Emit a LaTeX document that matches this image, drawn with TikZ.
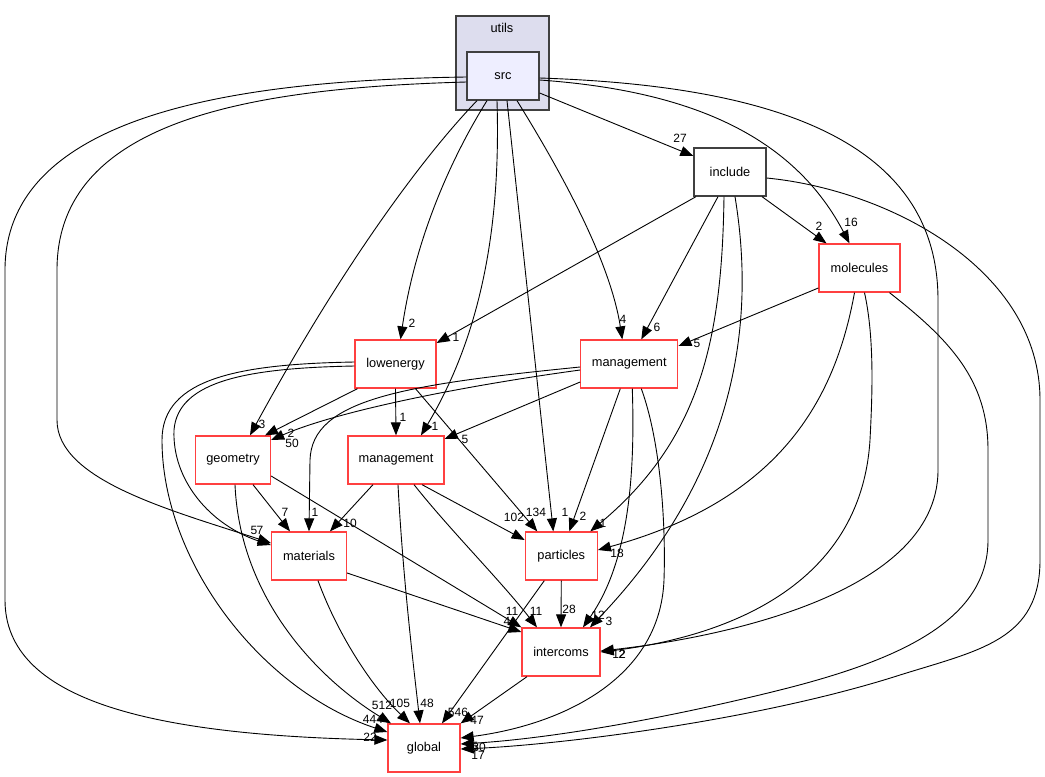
\documentclass[tikz,border=0pt]{standalone}
\usepackage{fontspec}
\setmainfont{Liberation Sans}
\usetikzlibrary{arrows.meta}
\definecolor{nodered}{RGB}{255,64,64}
\definecolor{clusterfill}{RGB}{221,221,238}
\definecolor{srcfill}{RGB}{238,238,255}
\definecolor{darkedge}{RGB}{64,64,64}
\begin{document}
\begin{tikzpicture}[x=1pt,y=-1pt,
  dirbox/.style={draw=nodered,line width=1.3pt,rectangle,minimum height=48pt,inner sep=0pt,font=\fontsize{12.8}{14}\selectfont},
  conn/.style={draw=black,line width=0.9pt,-{Triangle[length=13pt,width=10pt]}},
  lbl/.style={font=\fontsize{12}{12}\selectfont,inner sep=0pt}]
\useasboundingbox (0,0) rectangle (1045,777);
\fill[white] (0,0) rectangle (1045,777);
% cluster
\node[draw=darkedge,fill=clusterfill,line width=1.3pt,minimum width=93pt,minimum height=94pt,inner sep=0pt] (utils) at (502.5,63) {};
\node[font=\fontsize{12.8}{14}\selectfont,inner sep=0pt] (utilslbl) at (502,28) {utils};
\node[draw=darkedge,fill=srcfill,line width=1.3pt,minimum width=72pt,minimum height=48pt,inner sep=0pt,font=\fontsize{12.8}{14}\selectfont] (src) at (503,76) {src};
% nodes
\node[dirbox,draw=darkedge,minimum width=72pt] (include) at (730,172) {include};
\node[dirbox,minimum width=81pt] (molecules) at (859.5,268) {molecules};
\node[dirbox,minimum width=81pt] (lowenergy) at (395.5,364) {lowenergy};
\node[dirbox,minimum width=97pt] (mgmtT) at (629.3,364) {management};
\node[dirbox,minimum width=75pt] (geometry) at (233,460) {geometry};
\node[dirbox,minimum width=96pt] (mgmtM) at (396,460) {management};
\node[dirbox,minimum width=75pt] (materials) at (309,556) {materials};
\node[dirbox,minimum width=72pt] (particles) at (561.3,556) {particles};
\node[dirbox,minimum width=78pt] (intercoms) at (561,652) {intercoms};
\node[dirbox,minimum width=72pt] (global) at (424,748) {global};
% src edges
\draw[conn] ([yshift=-17pt]src.east) -- ([yshift=16pt]include.west);
\draw[conn] ([yshift=-4pt]src.east) .. controls (680,90) and (790,130) .. ([xshift=-10pt]molecules.north);
\draw[conn] ([yshift=-2pt]src.east) .. controls (750,85) and (938,130) .. (938,300) -- (938,470) .. controls (938,600) and (700,640) .. ([yshift=1pt]intercoms.east);
\draw[conn] ([yshift=-1pt]src.west) .. controls (250,80) and (5,110) .. (5,270) -- (5,600) .. controls (5,700) and (150,735) .. ([yshift=8pt]global.west);
\draw[conn] ([yshift=-6pt]src.west) .. controls (250,88) and (57,120) .. (57,270) -- (57,420) .. controls (57,480) and (170,510) .. ([yshift=13pt]materials.west);
\draw[conn] ([xshift=-26pt]src.south) .. controls (420,160) and (340,270) .. ([xshift=17pt]geometry.north);
\draw[conn] ([xshift=-16pt]src.south) .. controls (450,160) and (415,240) .. ([xshift=5pt]lowenergy.north);
\draw[conn] ([xshift=-6pt]src.south) .. controls (500,200) and (490,320) .. ([xshift=25pt]mgmtM.north);
\draw[conn] ([xshift=4pt]src.south) -- ([xshift=-8pt]particles.north);
\draw[conn] ([xshift=14pt]src.south) .. controls (560,170) and (610,260) .. ([xshift=-7pt]mgmtT.north);
% include edges
\draw[conn] ([xshift=-34pt]include.south) -- ([yshift=21pt]lowenergy.east);
\draw[conn] ([xshift=-12pt]include.south) -- ([xshift=12pt]mgmtT.north);
\draw[conn] ([xshift=-6pt]include.south) .. controls (722,340) and (700,440) .. ([xshift=29pt]particles.north);
\draw[conn] ([xshift=5pt]include.south) .. controls (752,300) and (750,460) .. ([xshift=29pt]intercoms.north);
\draw[conn] ([xshift=32pt]include.south) -- ([xshift=-33pt]molecules.north);
\draw[conn] ([yshift=-6pt]include.east) .. controls (890,190) and (1040,270) .. (1040,400) -- (1040,560) .. controls (1040,640) and (980,650) .. (900,675) .. controls (760,720) and (560,745) .. ([yshift=-1pt]global.east);
% molecules edges
\draw[conn] ([yshift=-20pt]molecules.west) -- ([yshift=18pt]mgmtT.east);
\draw[conn] ([xshift=-5pt]molecules.south) .. controls (835,400) and (780,500) .. ([yshift=6pt]particles.east);
\draw[conn] ([xshift=5pt]molecules.south) .. controls (875,340) and (872,400) .. (870,440) .. controls (860,600) and (700,640) .. (intercoms.east);
\draw[conn] ([xshift=30pt]molecules.south) .. controls (950,340) and (988,380) .. (988,450) -- (988,540) .. controls (988,620) and (900,660) .. (780,690) .. controls (680,715) and (560,738) .. ([yshift=4pt]global.east);
% management (top) edges
\draw[conn] ([yshift=-6pt]mgmtT.west) .. controls (470,385) and (340,410) .. ([yshift=20pt]geometry.east);
\draw[conn] ([yshift=-3pt]mgmtT.west) .. controls (400,385) and (312,400) .. (310,460) -- (materials.north);
\draw[conn] ([yshift=-18pt]mgmtT.west) -- ([yshift=21pt]mgmtM.east);
\draw[conn] ([xshift=-9pt]mgmtT.south) -- ([xshift=8pt]particles.north);
\draw[conn] ([xshift=3pt]mgmtT.south) .. controls (635,470) and (630,560) .. ([xshift=22pt]intercoms.north);
\draw[conn] ([xshift=12pt]mgmtT.south) .. controls (660,440) and (666,520) .. (664,580) .. controls (660,680) and (560,725) .. ([yshift=10pt]global.east);
% lowenergy edges
\draw[conn] ([xshift=-38pt]lowenergy.south) -- ([xshift=32pt]geometry.north);
\draw[conn] (lowenergy.south) -- (mgmtM.north);
\draw[conn] ([xshift=20pt]lowenergy.south) -- ([xshift=-24pt]particles.north);
\draw[conn] ([yshift=-2pt]lowenergy.west) .. controls (250,368) and (178,380) .. (174,430) .. controls (172,480) and (210,525) .. ([yshift=11pt]materials.west);
\draw[conn] ([yshift=2pt]lowenergy.west) .. controls (240,364) and (162,378) .. (162,440) .. controls (162,560) and (260,690) .. ([yshift=16pt]global.west);
% geometry edges
\draw[conn] ([xshift=20pt]geometry.south) -- ([xshift=-19pt]materials.north);
\draw[conn] ([yshift=-16pt]geometry.east) -- (intercoms.north west);
\draw[conn] ([xshift=2pt]geometry.south) .. controls (240,600) and (320,680) .. ([xshift=-33pt]global.north);
% management (mid) edges
\draw[conn] ([xshift=-23pt]mgmtM.south) -- ([xshift=21pt]materials.north);
\draw[conn] ([xshift=26pt]mgmtM.south) -- ([yshift=16pt]particles.west);
\draw[conn] ([xshift=18pt]mgmtM.south) .. controls (450,530) and (500,580) .. ([xshift=-24pt]intercoms.north);
\draw[conn] ([xshift=2pt]mgmtM.south) .. controls (403,580) and (414,670) .. ([xshift=-4pt]global.north);
% materials edges
\draw[conn] ([yshift=-17pt]materials.east) -- ([yshift=20pt]intercoms.west);
\draw[conn] ([xshift=9pt]materials.south) .. controls (340,640) and (375,690) .. ([xshift=-14pt]global.north);
% particles, intercoms
\draw[conn] (particles.south) -- (intercoms.north);
\draw[conn] ([xshift=-17pt]particles.south) -- ([xshift=18pt]global.north);
\draw[conn] ([xshift=-34pt]intercoms.south) -- (global.north east);
% labels
\node[lbl] (l01) at (680,138) {27};
\node[lbl] (l02) at (851,222) {16};
\node[lbl] (l03) at (819,226) {2};
\node[lbl] (l04) at (697,343) {5};
\node[lbl] (l05) at (657,327) {6};
\node[lbl] (l06) at (623,319) {4};
\node[lbl] (l07) at (412,323) {2};
\node[lbl] (l08) at (456,337) {1};
\node[lbl] (l09) at (262,424) {3};
\node[lbl] (l10) at (291,433) {2};
\node[lbl] (l11) at (292,443) {50};
\node[lbl] (l12) at (403,417) {1};
\node[lbl] (l13) at (435,426) {1};
\node[lbl] (l14) at (465,439) {5};
\node[lbl] (l15) at (285,512) {7};
\node[lbl] (l16) at (315,512) {1};
\node[lbl] (l17) at (350,523) {10};
\node[lbl] (l18) at (254,530) {5};
\node[lbl] (l19) at (260,530) {7};
\node[lbl] (l20) at (514,517) {102};
\node[lbl] (l21) at (536,512) {134};
\node[lbl] (l22) at (565,512) {1};
\node[lbl] (l23) at (583,516) {2};
\node[lbl] (l24) at (603,523) {1};
\node[lbl] (l25) at (617,553) {18};
\node[lbl] (l26) at (512,611) {11};
\node[lbl] (l27) at (507,621) {4};
\node[lbl] (l28) at (536,611) {11};
\node[lbl] (l29) at (569,609) {28};
\node[lbl] (l30) at (598,615) {12};
\node[lbl] (l31) at (609,621) {3};
\node[lbl] (l32) at (619,654) {12};
\node[lbl] (l33) at (622,654) {2};
\node[lbl] (l34) at (382,705) {512};
\node[lbl] (l35) at (400,703) {105};
\node[lbl] (l36) at (427,703) {48};
\node[lbl] (l37) at (373,719) {444};
\node[lbl] (l38) at (370,737) {22};
\node[lbl] (l39) at (458,712) {546};
\node[lbl] (l40) at (477,720) {47};
\node[lbl] (l41) at (475,746) {5};
\node[lbl] (l42) at (479,747) {30};
\node[lbl] (l43) at (478,755) {17};
\end{tikzpicture}
\end{document}
